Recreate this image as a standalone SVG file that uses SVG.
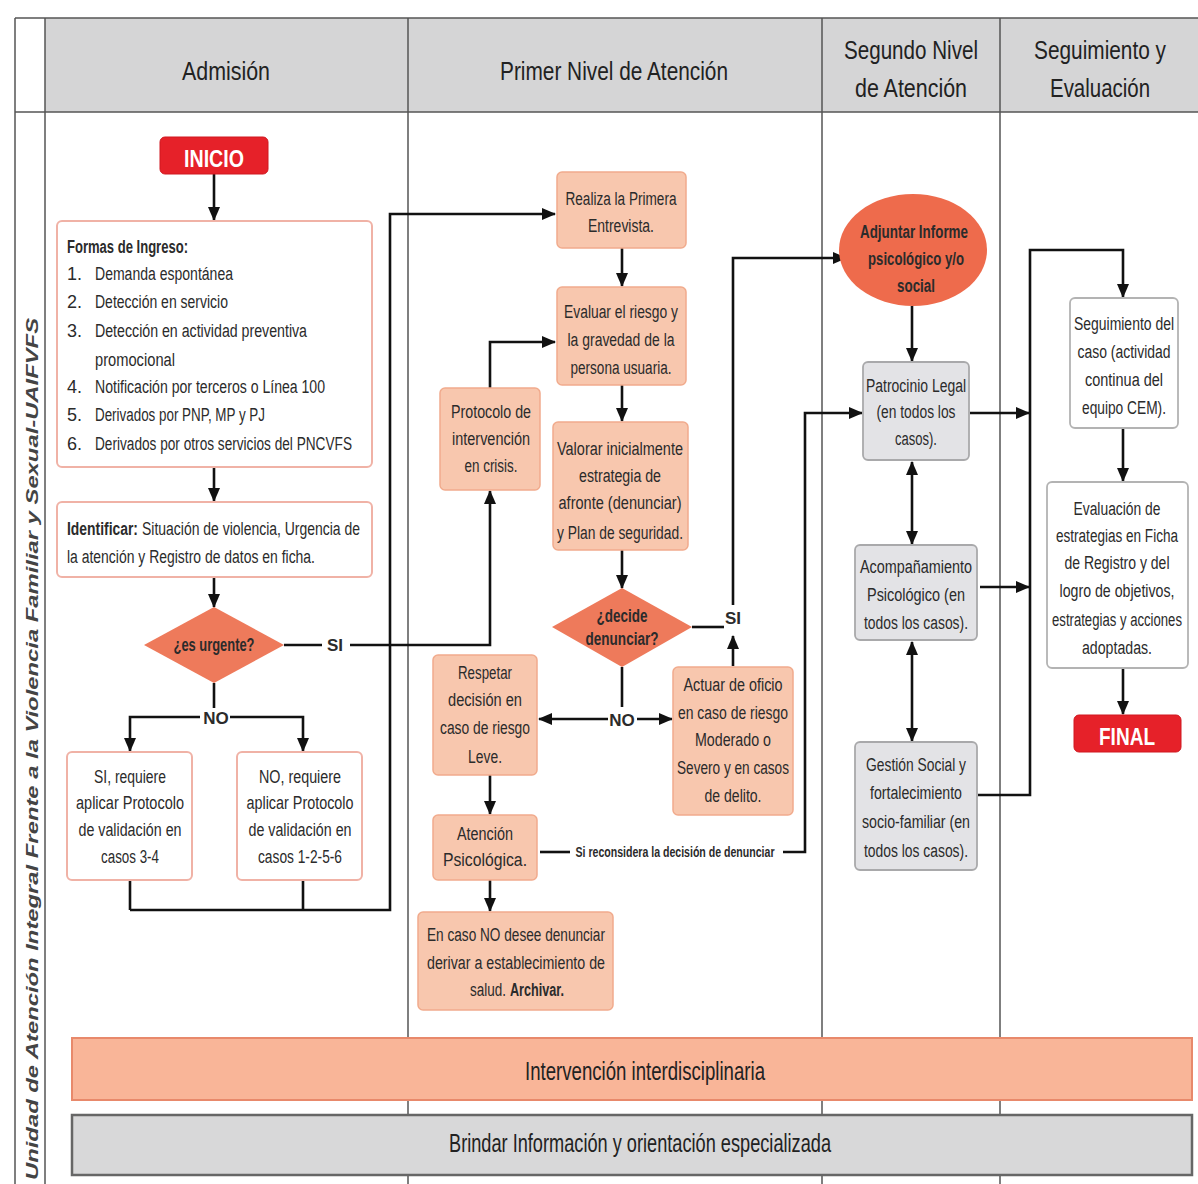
<svg xmlns="http://www.w3.org/2000/svg" width="1198" height="1184" viewBox="0 0 1198 1184">
<style>
text{font-family:"Liberation Sans",Arial,sans-serif;fill:#2b2b2b}
.h{font-size:26px;fill:#222}
.t{font-size:18px;text-anchor:middle}
.l{font-size:18px}
.b{font-weight:bold}
.lane{stroke:#555;stroke-width:1.5;fill:none}
.c{stroke:#111;stroke-width:2.6;fill:none}
.ca{stroke:#111;stroke-width:2.6;fill:none;marker-end:url(#ah)}
.cd{stroke:#111;stroke-width:2.6;fill:none;marker-end:url(#ah);marker-start:url(#ah)}
.salmon{fill:#f8c7ae;stroke:#f1ab8d;stroke-width:1.5}
.white{fill:#fff;stroke:#f0b2a6;stroke-width:2}
.gray{fill:#e3e3e6;stroke:#a9a9ab;stroke-width:1.8}
.wgray{fill:#fff;stroke:#b3b3b3;stroke-width:1.8}
.red{fill:#e62129;stroke:#d01820;stroke-width:1}
.dia{fill:#ee7a5b}
.lbl{font-size:17px;font-weight:bold;text-anchor:middle}
</style>
<defs>
<marker id="ah" markerUnits="userSpaceOnUse" markerWidth="14" markerHeight="12" refX="13" refY="6" orient="auto-start-reverse">
<path d="M0,0 L14,6 L0,12 z" fill="#111"/>
</marker>
</defs>
<rect width="1198" height="1184" fill="#fff"/>
<g id="lanes">
<rect x="45" y="18" width="1153" height="94" fill="#d5d5d6"/>
<line class="lane" x1="15" y1="18" x2="1198" y2="18"/>
<line class="lane" x1="15" y1="112" x2="1198" y2="112"/>
<line class="lane" x1="15" y1="18" x2="15" y2="1184"/>
<line class="lane" x1="45" y1="18" x2="45" y2="1184"/>
<line class="lane" x1="408" y1="18" x2="408" y2="1184"/>
<line class="lane" x1="822" y1="18" x2="822" y2="1184"/>
<line class="lane" x1="1000" y1="18" x2="1000" y2="1184"/>
<text class="h" x="226" y="80" text-anchor="middle" textLength="88" lengthAdjust="spacingAndGlyphs">Admisión</text>
<text class="h" x="614" y="80" text-anchor="middle" textLength="228" lengthAdjust="spacingAndGlyphs">Primer Nivel de Atención</text>
<text class="h" x="911" y="59" text-anchor="middle" textLength="134" lengthAdjust="spacingAndGlyphs">Segundo Nivel</text>
<text class="h" x="911" y="97" text-anchor="middle" textLength="112" lengthAdjust="spacingAndGlyphs">de Atención</text>
<text class="h" x="1100" y="59" text-anchor="middle" textLength="132" lengthAdjust="spacingAndGlyphs">Seguimiento y</text>
<text class="h" x="1100" y="97" text-anchor="middle" textLength="100" lengthAdjust="spacingAndGlyphs">Evaluación</text>
<text transform="translate(38,749) rotate(-90)" text-anchor="middle" font-size="17" font-weight="bold" font-style="italic" style="fill:#444" textLength="862" lengthAdjust="spacingAndGlyphs">Unidad de Atención Integral Frente a la Violencia Familiar y Sexual-UAIFVFS</text>
</g>
<g id="bar-intervencion">
<rect x="72" y="1038" width="1120" height="62" fill="#f9b598" stroke="#e8896b" stroke-width="2"/>
<text class="h" x="645" y="1080" text-anchor="middle" font-size="22" textLength="240" lengthAdjust="spacingAndGlyphs">Intervención interdisciplinaria</text>
</g>
<g id="bar-brindar">
<rect x="72" y="1115" width="1120" height="60" fill="#d8d8d9" stroke="#666" stroke-width="2.5"/>
<text class="h" x="640" y="1152" text-anchor="middle" font-size="22" textLength="382" lengthAdjust="spacingAndGlyphs">Brindar Información y orientación especializada</text>
</g>
<g id="connectors">
<line class="ca" x1="214" y1="174" x2="214" y2="220"/>
<line class="ca" x1="214" y1="467" x2="214" y2="501"/>
<line class="ca" x1="214" y1="577" x2="214" y2="607"/>
<line class="c" x1="284" y1="645" x2="322" y2="645"/>
<text class="lbl" x="335" y="651">SI</text>
<polyline class="ca" points="350,645 490,645 490,491"/>
<line class="c" x1="214" y1="683" x2="214" y2="708"/>
<polyline class="ca" points="200,717 130,717 130,751"/>
<polyline class="ca" points="230,717 303,717 303,751"/>
<text class="lbl" x="216" y="724">NO</text>
<line class="c" x1="130" y1="880" x2="130" y2="910"/>
<line class="c" x1="303" y1="880" x2="303" y2="910"/>
<polyline class="ca" points="130,910 390,910 390,214 555,214"/>
<line class="ca" x1="622" y1="248" x2="622" y2="286"/>
<line class="ca" x1="622" y1="385" x2="622" y2="421"/>
<line class="ca" x1="622" y1="550" x2="622" y2="588"/>
<polyline class="ca" points="490,388 490,342 555,342"/>
<line class="c" x1="692" y1="627" x2="724" y2="627"/>
<text class="lbl" x="733" y="624" font-size="15">SI</text>
<polyline class="ca" points="733,605 733,258 846,258"/>
<line class="ca" x1="733" y1="666" x2="733" y2="636"/>
<line class="c" x1="622" y1="667" x2="622" y2="707"/>
<line class="ca" x1="608" y1="719" x2="539" y2="719"/>
<line class="ca" x1="637" y1="719" x2="672" y2="719"/>
<text class="lbl" x="622" y="726">NO</text>
<line class="ca" x1="490" y1="775" x2="490" y2="814"/>
<line class="ca" x1="490" y1="880" x2="490" y2="911"/>
<line class="c" x1="540" y1="852" x2="570" y2="852"/>
<text x="675" y="857" font-size="14" font-weight="bold" text-anchor="middle" textLength="199" lengthAdjust="spacingAndGlyphs">Si reconsidera la decisión de denunciar</text>
<polyline class="ca" points="783,852 805,852 805,413 862,413"/>
<line class="ca" x1="912" y1="306" x2="912" y2="361"/>
<line class="cd" x1="912" y1="462" x2="912" y2="544"/>
<line class="cd" x1="912" y1="642" x2="912" y2="741"/>
<line class="ca" x1="970" y1="413" x2="1029" y2="413"/>
<line class="ca" x1="980" y1="587" x2="1029" y2="587"/>
<polyline class="ca" points="978,795 1030,795 1030,250 1123,250 1123,297"/>
<line class="ca" x1="1123" y1="428" x2="1123" y2="481"/>
<line class="ca" x1="1123" y1="668" x2="1123" y2="714"/>
</g>
<g id="n-inicio">
<rect class="red" x="160" y="137" width="108" height="37" rx="5"/>
<text x="214" y="167" font-size="24" font-weight="bold" style="fill:#fff" text-anchor="middle" textLength="60" lengthAdjust="spacingAndGlyphs">INICIO</text>
</g>
<g id="n-formas">
<rect class="white" x="57" y="221" width="315" height="246" rx="5"/>
<text class="l b" x="67" y="253" textLength="121" lengthAdjust="spacingAndGlyphs">Formas de Ingreso:</text>
<text class="l" x="67" y="280">1.</text><text class="l" x="95" y="280" textLength="138" lengthAdjust="spacingAndGlyphs">Demanda espontánea</text>
<text class="l" x="67" y="308">2.</text><text class="l" x="95" y="308" textLength="133" lengthAdjust="spacingAndGlyphs">Detección en servicio</text>
<text class="l" x="67" y="337">3.</text><text class="l" x="95" y="337" textLength="212" lengthAdjust="spacingAndGlyphs">Detección en actividad preventiva</text>
<text class="l" x="95" y="366" textLength="80" lengthAdjust="spacingAndGlyphs">promocional</text>
<text class="l" x="67" y="393">4.</text><text class="l" x="95" y="393" textLength="230" lengthAdjust="spacingAndGlyphs">Notificación por terceros o Línea 100</text>
<text class="l" x="67" y="421">5.</text><text class="l" x="95" y="421" textLength="170" lengthAdjust="spacingAndGlyphs">Derivados por PNP, MP y PJ</text>
<text class="l" x="67" y="450">6.</text><text class="l" x="95" y="450" textLength="257" lengthAdjust="spacingAndGlyphs">Derivados por otros servicios del PNCVFS</text>
</g>
<g id="n-identificar">
<rect class="white" x="57" y="502" width="315" height="75" rx="5"/>
<text class="l b" x="67" y="535" textLength="71" lengthAdjust="spacingAndGlyphs">Identificar:</text>
<text class="l" x="142" y="535" textLength="218" lengthAdjust="spacingAndGlyphs">Situación de violencia, Urgencia de</text>
<text class="l" x="67" y="563" textLength="248" lengthAdjust="spacingAndGlyphs">la atención y Registro de datos en ficha.</text>
</g>
<g id="n-urgente">
<polygon class="dia" points="214,607 284,645 214,683 144,645"/>
<text class="t b" x="214" y="651" textLength="81" lengthAdjust="spacingAndGlyphs">¿es urgente?</text>
</g>
<g id="n-si-proto">
<rect class="white" x="67" y="752" width="125" height="128" rx="5"/>
<text class="t" x="130" y="783" textLength="72" lengthAdjust="spacingAndGlyphs">SI, requiere</text>
<text class="t" x="130" y="809" textLength="108" lengthAdjust="spacingAndGlyphs">aplicar Protocolo</text>
<text class="t" x="130" y="836" textLength="103" lengthAdjust="spacingAndGlyphs">de validación en</text>
<text class="t" x="130" y="863" textLength="58" lengthAdjust="spacingAndGlyphs">casos 3-4</text>
</g>
<g id="n-no-proto">
<rect class="white" x="237" y="752" width="125" height="128" rx="5"/>
<text class="t" x="300" y="783" textLength="82" lengthAdjust="spacingAndGlyphs">NO, requiere</text>
<text class="t" x="300" y="809" textLength="107" lengthAdjust="spacingAndGlyphs">aplicar Protocolo</text>
<text class="t" x="300" y="836" textLength="103" lengthAdjust="spacingAndGlyphs">de validación en</text>
<text class="t" x="300" y="863" textLength="84" lengthAdjust="spacingAndGlyphs">casos 1-2-5-6</text>
</g>
<g id="n-realiza">
<rect class="salmon" x="557" y="172" width="129" height="76" rx="5"/>
<text class="t" x="621" y="205" textLength="111" lengthAdjust="spacingAndGlyphs">Realiza la Primera</text>
<text class="t" x="621" y="232" textLength="66" lengthAdjust="spacingAndGlyphs">Entrevista.</text>
</g>
<g id="n-evaluar">
<rect class="salmon" x="557" y="287" width="129" height="98" rx="5"/>
<text class="t" x="621" y="318" textLength="114" lengthAdjust="spacingAndGlyphs">Evaluar el riesgo y</text>
<text class="t" x="621" y="346" textLength="107" lengthAdjust="spacingAndGlyphs">la gravedad de la</text>
<text class="t" x="621" y="374" textLength="101" lengthAdjust="spacingAndGlyphs">persona usuaria.</text>
</g>
<g id="n-protocolo">
<rect class="salmon" x="440" y="388" width="100" height="102" rx="5"/>
<text class="t" x="491" y="418" textLength="80" lengthAdjust="spacingAndGlyphs">Protocolo de</text>
<text class="t" x="491" y="445" textLength="78" lengthAdjust="spacingAndGlyphs">intervención</text>
<text class="t" x="491" y="472" textLength="53" lengthAdjust="spacingAndGlyphs">en crisis.</text>
</g>
<g id="n-valorar">
<rect class="salmon" x="553" y="422" width="135" height="128" rx="5"/>
<text class="t" x="620" y="455" textLength="126" lengthAdjust="spacingAndGlyphs">Valorar inicialmente</text>
<text class="t" x="620" y="482" textLength="82" lengthAdjust="spacingAndGlyphs">estrategia de</text>
<text class="t" x="620" y="509" textLength="123" lengthAdjust="spacingAndGlyphs">afronte (denunciar)</text>
<text class="t" x="620" y="539" textLength="126" lengthAdjust="spacingAndGlyphs">y Plan de seguridad.</text>
</g>
<g id="n-decide">
<polygon class="dia" points="622,588 692,627 622,667 552,627"/>
<text class="t b" x="622" y="622" textLength="51" lengthAdjust="spacingAndGlyphs">¿decide</text>
<text class="t b" x="622" y="645" textLength="73" lengthAdjust="spacingAndGlyphs">denunciar?</text>
</g>
<g id="n-respetar">
<rect class="salmon" x="433" y="655" width="104" height="120" rx="5"/>
<text class="t" x="485" y="679" textLength="54" lengthAdjust="spacingAndGlyphs">Respetar</text>
<text class="t" x="485" y="706" textLength="74" lengthAdjust="spacingAndGlyphs">decisión en</text>
<text class="t" x="485" y="734" textLength="90" lengthAdjust="spacingAndGlyphs">caso de riesgo</text>
<text class="t" x="485" y="763" textLength="34" lengthAdjust="spacingAndGlyphs">Leve.</text>
</g>
<g id="n-actuar">
<rect class="salmon" x="673" y="667" width="120" height="148" rx="5"/>
<text class="t" x="733" y="691" textLength="99" lengthAdjust="spacingAndGlyphs">Actuar de oficio</text>
<text class="t" x="733" y="719" textLength="110" lengthAdjust="spacingAndGlyphs">en caso de riesgo</text>
<text class="t" x="733" y="746" textLength="76" lengthAdjust="spacingAndGlyphs">Moderado o</text>
<text class="t" x="733" y="774" textLength="112" lengthAdjust="spacingAndGlyphs">Severo y en casos</text>
<text class="t" x="733" y="802" textLength="57" lengthAdjust="spacingAndGlyphs">de delito.</text>
</g>
<g id="n-atencion">
<rect class="salmon" x="433" y="815" width="104" height="65" rx="5"/>
<text class="t" x="485" y="840" textLength="56" lengthAdjust="spacingAndGlyphs">Atención</text>
<text class="t" x="485" y="866" textLength="84" lengthAdjust="spacingAndGlyphs">Psicológica.</text>
</g>
<g id="n-encaso">
<rect class="salmon" x="418" y="912" width="195" height="98" rx="5"/>
<text class="t" x="516" y="941" textLength="178" lengthAdjust="spacingAndGlyphs">En caso NO desee denunciar</text>
<text class="t" x="516" y="969" textLength="178" lengthAdjust="spacingAndGlyphs">derivar a establecimiento de</text>
<text class="l" x="470" y="996" textLength="36" lengthAdjust="spacingAndGlyphs">salud.</text>
<text class="l b" x="510" y="996" textLength="54" lengthAdjust="spacingAndGlyphs">Archivar.</text>
</g>
<g id="n-adjuntar">
<ellipse cx="913" cy="250" rx="74" ry="56" fill="#ee6b4c"/>
<text class="t b" x="914" y="238" textLength="108" lengthAdjust="spacingAndGlyphs">Adjuntar Informe</text>
<text class="t b" x="916" y="265" textLength="96" lengthAdjust="spacingAndGlyphs">psicológico y/o</text>
<text class="t b" x="916" y="292" textLength="38" lengthAdjust="spacingAndGlyphs">social</text>
</g>
<g id="n-patrocinio">
<rect class="gray" x="863" y="362" width="106" height="98" rx="5"/>
<text class="t" x="916" y="392" textLength="100" lengthAdjust="spacingAndGlyphs">Patrocinio Legal</text>
<text class="t" x="916" y="418" textLength="79" lengthAdjust="spacingAndGlyphs">(en todos los</text>
<text class="t" x="916" y="445" textLength="42" lengthAdjust="spacingAndGlyphs">casos).</text>
</g>
<g id="n-acomp">
<rect class="gray" x="855" y="545" width="122" height="95" rx="5"/>
<text class="t" x="916" y="573" textLength="112" lengthAdjust="spacingAndGlyphs">Acompañamiento</text>
<text class="t" x="916" y="601" textLength="98" lengthAdjust="spacingAndGlyphs">Psicológico (en</text>
<text class="t" x="916" y="629" textLength="104" lengthAdjust="spacingAndGlyphs">todos los casos).</text>
</g>
<g id="n-gestion">
<rect class="gray" x="855" y="742" width="122" height="128" rx="5"/>
<text class="t" x="916" y="771" textLength="100" lengthAdjust="spacingAndGlyphs">Gestión Social y</text>
<text class="t" x="916" y="799" textLength="92" lengthAdjust="spacingAndGlyphs">fortalecimiento</text>
<text class="t" x="916" y="828" textLength="108" lengthAdjust="spacingAndGlyphs">socio-familiar (en</text>
<text class="t" x="916" y="857" textLength="104" lengthAdjust="spacingAndGlyphs">todos los casos).</text>
</g>
<g id="n-seguimiento">
<rect class="wgray" x="1070" y="298" width="108" height="130" rx="5"/>
<text class="t" x="1124" y="330" textLength="100" lengthAdjust="spacingAndGlyphs">Seguimiento del</text>
<text class="t" x="1124" y="358" textLength="93" lengthAdjust="spacingAndGlyphs">caso (actividad</text>
<text class="t" x="1124" y="386" textLength="78" lengthAdjust="spacingAndGlyphs">continua del</text>
<text class="t" x="1124" y="414" textLength="84" lengthAdjust="spacingAndGlyphs">equipo CEM).</text>
</g>
<g id="n-evaluacion">
<rect class="wgray" x="1047" y="482" width="141" height="186" rx="5"/>
<text class="t" x="1117" y="515" textLength="87" lengthAdjust="spacingAndGlyphs">Evaluación de</text>
<text class="t" x="1117" y="542" textLength="122" lengthAdjust="spacingAndGlyphs">estrategias en Ficha</text>
<text class="t" x="1117" y="569" textLength="105" lengthAdjust="spacingAndGlyphs">de Registro y del</text>
<text class="t" x="1117" y="597" textLength="115" lengthAdjust="spacingAndGlyphs">logro de objetivos,</text>
<text class="t" x="1117" y="626" textLength="130" lengthAdjust="spacingAndGlyphs">estrategias y acciones</text>
<text class="t" x="1117" y="654" textLength="70" lengthAdjust="spacingAndGlyphs">adoptadas.</text>
</g>
<g id="n-final">
<rect class="red" x="1074" y="715" width="107" height="37" rx="5"/>
<text x="1127" y="745" font-size="24" font-weight="bold" style="fill:#fff" text-anchor="middle" textLength="56" lengthAdjust="spacingAndGlyphs">FINAL</text>
</g>
</svg>
